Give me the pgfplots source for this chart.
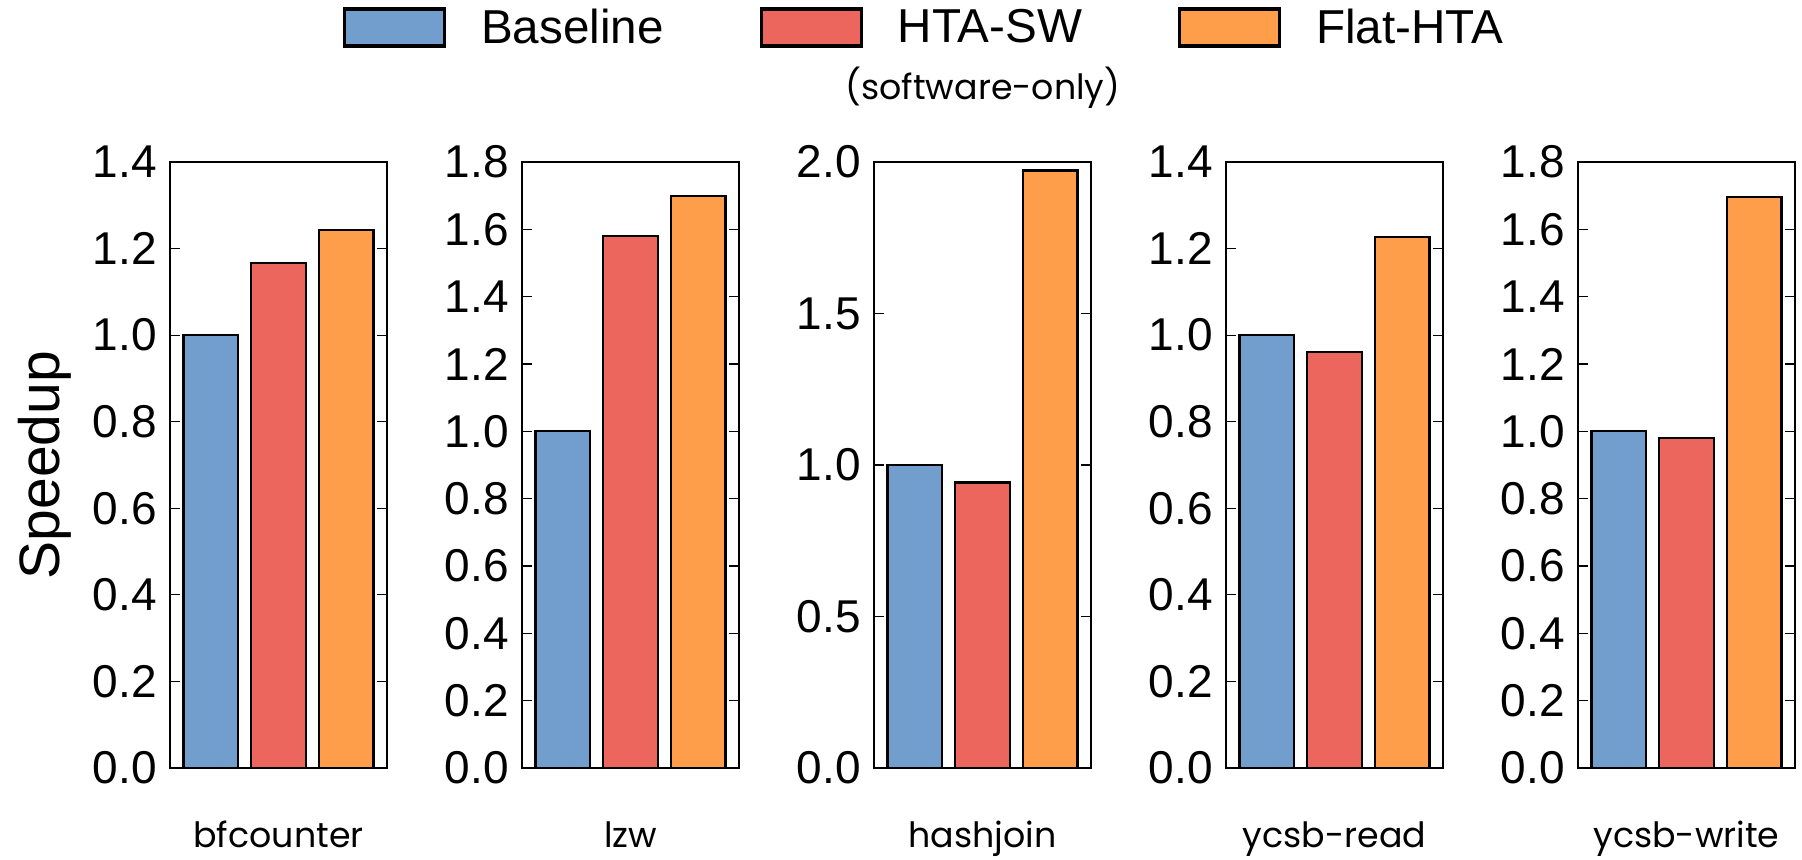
\documentclass[border=0pt]{standalone}
\usepackage{pgfplots}
\pgfplotsset{compat=1.18}
\usepackage{fontspec}
\setmainfont{Liberation Sans}
\newfontfamily\geo{Poppins}

\definecolor{cBase}{RGB}{114,158,206}
\definecolor{cSW}{RGB}{237,102,93}
\definecolor{cFlat}{RGB}{255,158,74}

\newcommand{\tickfont}{\fontsize{23}{27}\selectfont}
\newcommand{\legfont}{\fontsize{23.8}{28}\selectfont}
\newcommand{\catfont}{\geo\fontsize{17.4}{21}\selectfont}

\pgfplotsset{
  panel/.style={
    scale only axis, width=108.5pt, height=303pt,
    anchor=south west,
    ybar, bar width=0.8, bar shift=0pt,
    xmin=-0.6, xmax=2.6, ymin=0,
    xtick=\empty,
    ytick pos=both, yticklabel pos=left,
    tick align=inside,
    major tick length=5pt,
    tick style={black, line width=0.6pt},
    axis line style={line width=1pt},
    yticklabel style={font=\tickfont, inner sep=0pt, xshift=-6.5pt},
    /pgf/number format/.cd, fixed, fixed zerofill, precision=1, assume math mode=true,
    /pgfplots/.cd,
    xlabel style={at={(axis description cs:0.5,0)}, anchor=base, yshift=-40pt, font=\catfont},
  },
  bBase/.style={fill=cBase, draw=black, line width=1.1pt, bar shift=0pt},
  bSW/.style={fill=cSW, draw=black, line width=1.1pt, bar shift=0pt},
  bFlat/.style={fill=cFlat, draw=black, line width=1.1pt, bar shift=0pt},
}

\begin{document}
\begin{tikzpicture}
\useasboundingbox (0,0) rectangle (901pt,430pt);

% bfcounter
\begin{axis}[panel, at={(85pt,46pt)}, ymax=1.4, ytick={0,0.2,...,1.41},
  xlabel={bfcounter},
  ylabel={Speedup},
  ylabel style={at={(axis description cs:-0.578,0.5)}, anchor=center, font=\fontsize{28.5}{32}\selectfont},
  legend columns=3,
  legend style={draw=none, fill=none, inner sep=0pt, outer sep=0pt,
    at={(axis description cs:0.797,1.222)}, anchor=west,
    nodes={inner sep=0pt}, font=\legfont,
    /tikz/every odd column/.append style={column sep=17.5pt},
    /tikz/every even column/.append style={column sep=48pt}},
  legend image code/.code={\draw[#1, line width=1.6pt] (0pt,-9.25pt) rectangle (50pt,9.25pt);},
]
\addplot[bBase] coordinates {(0,1.000)};
\addplot[bSW]   coordinates {(1,1.167)};
\addplot[bFlat] coordinates {(2,1.242)};
\addlegendentry{Baseline}
\addlegendentry{HTA-SW}
\addlegendentry{Flat-HTA}
\end{axis}

% lzw
\begin{axis}[panel, at={(261pt,46pt)}, ymax=1.8, ytick={0,0.2,...,1.81},
  xlabel={lzw}]
\addplot[bBase] coordinates {(0,1.000)};
\addplot[bSW]   coordinates {(1,1.580)};
\addplot[bFlat] coordinates {(2,1.698)};
\end{axis}

% hashjoin, with the note under the HTA-SW legend entry
\begin{axis}[panel, at={(437pt,46pt)}, ymax=2.0, ytick={0,0.5,1.0,1.5,2.0},
  xlabel={hashjoin}, clip=false]
\addplot[bBase] coordinates {(0,1.000)};
\addplot[bSW]   coordinates {(1,0.942)};
\addplot[bFlat] coordinates {(2,1.972)};
\node[font=\catfont, inner sep=0pt] at (axis description cs:0.502,1.122) {(software-only)};
\end{axis}

% ycsb-read
\begin{axis}[panel, at={(613pt,46pt)}, ymax=1.4, ytick={0,0.2,...,1.41},
  xlabel={ycsb-read}]
\addplot[bBase] coordinates {(0,1.000)};
\addplot[bSW]   coordinates {(1,0.961)};
\addplot[bFlat] coordinates {(2,1.227)};
\end{axis}

% ycsb-write
\begin{axis}[panel, at={(789pt,46pt)}, ymax=1.8, ytick={0,0.2,...,1.81},
  xlabel={ycsb-write}]
\addplot[bBase] coordinates {(0,1.000)};
\addplot[bSW]   coordinates {(1,0.979)};
\addplot[bFlat] coordinates {(2,1.695)};
\end{axis}
\end{tikzpicture}
\end{document}
